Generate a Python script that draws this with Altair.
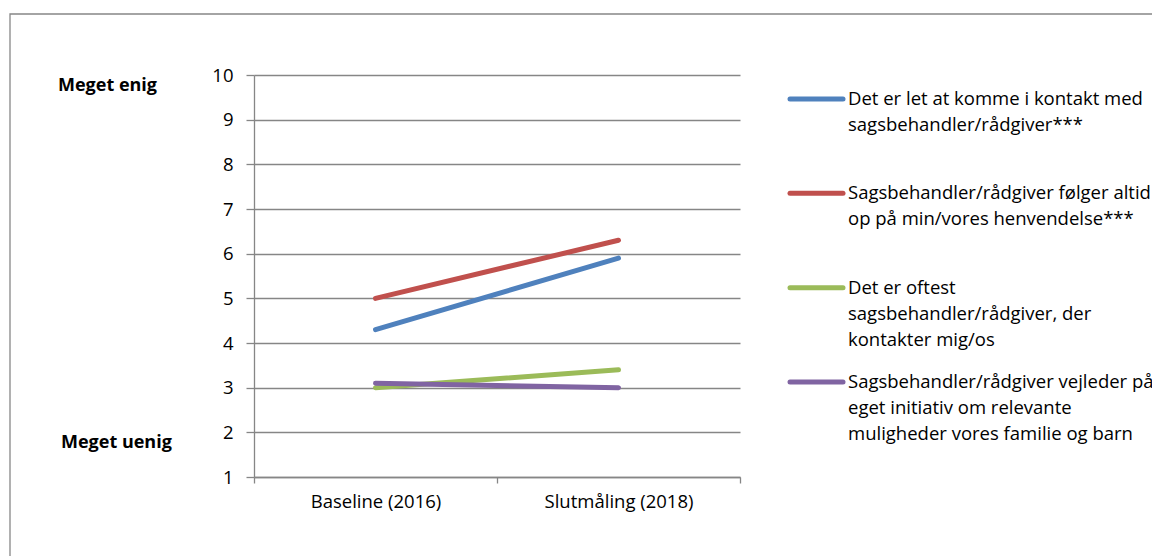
import altair as alt
import pandas as pd

categories = ["Baseline (2016)", "Slutmåling (2018)"]
legend_lines = [
    ["Det er let at komme i kontakt med", "sagsbehandler/rådgiver***"],
    ["Sagsbehandler/rådgiver følger altid", "op på min/vores henvendelse***"],
    ["Det er oftest", "sagsbehandler/rådgiver, der", "kontakter mig/os"],
    ["Sagsbehandler/rådgiver vejleder på", "eget initiativ om relevante", "muligheder vores familie og barn"],
]
series_names = [" ".join(l) for l in legend_lines]
blue_vals = [4.3, 5.9]
red_vals = [5.0, 6.3]
green_vals = [3.0, 3.4]
purple_vals = [3.1, 3.0]
colors = ["#4F81BD", "#C0504D", "#9BBB59", "#8064A2"]
y_ticks = list(range(1, 11))

all_vals = [blue_vals, red_vals, green_vals, purple_vals]
rows = []
for name, vals in zip(series_names, all_vals):
    for c, v in zip(categories, vals):
        rows.append({"series": name, "period": c, "value": v})
df = pd.DataFrame(rows)

leg_rows = []
for name, lines in zip(series_names, legend_lines):
    for i, t in enumerate(lines):
        leg_rows.append({"series": name, "line": i, "text": t})
leg_df = pd.DataFrame(leg_rows)
leg_series = pd.DataFrame({"series": series_names})

FONT = "Open Sans"
FS = 18.5
W, H = 486, 402
OX, OY = 254, 75
GRID = "#868686"

color_scale = alt.Scale(domain=series_names, range=colors)

lines = alt.Chart(df).mark_line(strokeWidth=5, strokeCap="round").encode(
    x=alt.X("period:N", sort=categories, title=None,
            scale=alt.Scale(domain=categories, paddingInner=0, paddingOuter=0),
            axis=alt.Axis(labelAngle=0, tickBand="extent", grid=False, tickSize=6,
                          tickColor=GRID, domainColor=GRID, labelFontSize=FS,
                          labelFont=FONT, labelColor="#000000", labelPadding=9,
                          tickWidth=1.3, domainWidth=1.3)),
    y=alt.Y("value:Q", title=None,
            scale=alt.Scale(domain=[1, 10], nice=False, zero=False),
            axis=alt.Axis(values=y_ticks, grid=True, gridColor=GRID, gridWidth=1.3,
                          tickColor=GRID, domainColor=GRID, tickSize=8, tickWidth=1.3,
                          domainWidth=1.3, labelFontSize=FS, labelFont=FONT,
                          labelColor="#000000", labelPadding=13)),
    color=alt.Color("series:N", scale=color_scale, legend=None),
)

leg_y = alt.Y("series:N", sort=series_names, axis=None,
              scale=alt.Scale(type="point", domain=series_names, range=[24, 307], padding=0))

leg_rules = alt.Chart(leg_series).mark_rule(strokeWidth=5, strokeCap="round").encode(
    x=alt.value(790 - OX), x2=alt.value(843 - OX), y=leg_y,
    color=alt.Color("series:N", scale=color_scale, legend=None),
)

leg_texts = []
for i in range(3):
    leg_texts.append(
        alt.Chart(leg_df).transform_filter(alt.datum.line == i)
        .mark_text(align="left", baseline="middle", font=FONT, fontSize=FS,
                   color="#000000", dy=26 * i)
        .encode(x=alt.value(848 - OX), y=leg_y, text="text:N")
    )

ann = pd.DataFrame({"label": ["Meget enig", "Meget uenig"]})
ann_enig = alt.Chart(ann).transform_filter(alt.datum.label == "Meget enig").mark_text(
    align="left", baseline="middle", font=FONT, fontSize=18, fontWeight="bold", color="#000000"
).encode(x=alt.value(58 - OX), y=alt.value(86 - OY), text="label:N")
ann_uenig = alt.Chart(ann).transform_filter(alt.datum.label == "Meget uenig").mark_text(
    align="left", baseline="middle", font=FONT, fontSize=18, fontWeight="bold", color="#000000"
).encode(x=alt.value(61 - OX), y=alt.value(443 - OY), text="label:N")

border = alt.Chart(ann).transform_filter(alt.datum.label == "Meget enig").mark_rect(
    fillOpacity=0, stroke="#878787", strokeWidth=1.3
).encode(x=alt.value(10 - OX), x2=alt.value(1152 - OX + 20),
         y=alt.value(14 - OY), y2=alt.value(556 - OY + 20))

chart = alt.layer(
    border, lines, leg_rules, *leg_texts, ann_enig, ann_uenig
).resolve_scale(y="independent", color="shared").properties(
    width=W, height=H,
    autosize=alt.AutoSizeParams(type="none"),
    padding={"left": OX, "top": OY, "right": 1152 - OX - W, "bottom": 556 - OY - H},
    background="white",
).configure_view(stroke=None)

chart.save("out.html", embed_options={"renderer": "svg", "actions": False})
